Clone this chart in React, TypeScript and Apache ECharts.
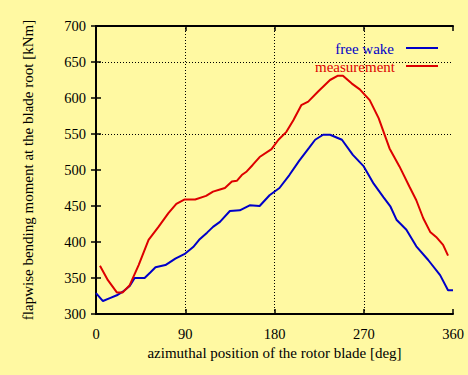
import React, { useEffect, useRef } from "react";
import * as echarts from "echarts";

const xTicks = [0, 90, 180, 270, 360];
const yTicks = [300, 350, 400, 450, 500, 550, 600, 650, 700];
const gridX = [90, 180, 270];
const gridY = [550, 650];

const freeWakeAngles = [0, 7, 14, 21, 27, 34, 39, 49, 55, 60, 70, 80, 90, 98, 104, 112, 118, 125, 135, 145, 155, 165, 175, 185, 195, 205, 215, 221, 229, 236, 248, 259, 270, 280, 290, 297, 303, 313, 323, 335, 347, 355, 360];
const freeWakeValues = [329, 318, 322, 326, 331, 339, 350, 350, 358, 365, 368, 377, 384, 393, 403, 413, 421, 428, 443, 444, 451, 450, 465, 475, 493, 513, 531, 542, 549, 549, 542, 521, 505, 481, 462, 449, 431, 417, 394, 375, 354, 333, 333];

const measAngles = [4, 12, 21, 27, 34, 43, 53, 63, 73, 81, 89, 100, 111, 118, 125, 130, 137, 142, 147, 152, 158, 165, 177, 184, 192, 199, 207, 214, 224, 236, 244, 249, 258, 266, 276, 285, 296, 306, 316, 323, 330, 337, 343, 350, 355];
const measValues = [367, 347, 330, 330, 340, 368, 403, 421, 440, 453, 459, 459, 464, 470, 473, 475, 484, 485, 493, 498, 507, 518, 529, 542, 553, 569, 590, 595, 609, 625, 631, 631, 620, 612, 597, 572, 530, 505, 477, 458, 433, 414, 407, 396, 381];

const seriesNames = ["free wake", "measurement"];
const seriesColors = ["#0000C8", "#DD0000"];

const FONT = "Liberation Serif";

export default function App() {
  const ref = useRef<HTMLDivElement>(null);
  useEffect(() => {
    if (!ref.current) return;
    const chart = echarts.init(ref.current, undefined, { renderer: "svg" });
    const zip = (a: number[], b: number[]) => a.map((v, i) => [v, b[i]]);
    const axisBase = {
      type: "value" as const,
      axisLine: { show: true, lineStyle: { color: "#000", width: 2 } },
      axisTick: { show: true, inside: true, length: 5, lineStyle: { color: "#000", width: 1.5 } },
      splitLine: { show: false },
    };
    chart.setOption({
      animation: false,
      backgroundColor: "#FFF9A2",
      textStyle: { fontFamily: FONT },
      grid: { left: 96, right: 15, top: 26, bottom: 61 },
      xAxis: [
        {
          ...axisBase,
          min: xTicks[0],
          max: xTicks[xTicks.length - 1],
          interval: 90,
          position: "bottom",
          name: "azimuthal position of the rotor blade [deg]",
          nameLocation: "middle",
          nameGap: 30,
          nameTextStyle: { fontFamily: FONT, fontSize: 15, color: "#000" },
          axisLabel: { fontFamily: FONT, fontSize: 14.5, color: "#000", margin: 12 },
        },
        {
          ...axisBase,
          min: xTicks[0],
          max: xTicks[xTicks.length - 1],
          interval: 90,
          position: "top",
          axisLabel: { show: false },
        },
      ],
      yAxis: [
        {
          ...axisBase,
          min: yTicks[0],
          max: yTicks[yTicks.length - 1],
          interval: 50,
          position: "left",
          name: "flapwise bending moment at the blade root [kNm]",
          nameLocation: "middle",
          nameGap: 61,
          nameTextStyle: { fontFamily: FONT, fontSize: 15, color: "#000" },
          axisLabel: { fontFamily: FONT, fontSize: 14.5, color: "#000", margin: 10 },
        },
        {
          ...axisBase,
          min: yTicks[0],
          max: yTicks[yTicks.length - 1],
          interval: 50,
          position: "right",
          axisLabel: { show: false },
        },
      ],
      graphic: [
        { type: "text", right: 74, top: 41, style: { text: seriesNames[0], fill: seriesColors[0], font: `15px '${FONT}'`, textAlign: "right" } },
        { type: "line", shape: { x1: 406, y1: 48, x2: 438, y2: 48 }, style: { stroke: seriesColors[0], lineWidth: 2 } },
        { type: "text", right: 73, top: 59, style: { text: seriesNames[1], fill: seriesColors[1], font: `15px '${FONT}'`, textAlign: "right" } },
        { type: "line", shape: { x1: 406, y1: 66, x2: 438, y2: 66 }, style: { stroke: seriesColors[1], lineWidth: 2 } },
      ],
      series: [
        {
          name: seriesNames[0],
          type: "line",
          data: zip(freeWakeAngles, freeWakeValues),
          showSymbol: false,
          lineStyle: { color: seriesColors[0], width: 2 },
          itemStyle: { color: seriesColors[0] },
          z: 3,
          markLine: {
            silent: true,
            symbol: "none",
            label: { show: false },
            lineStyle: { color: "#000", width: 1, type: [1, 2] },
            data: [...gridX.map((v) => ({ xAxis: v })), ...gridY.map((v) => ({ yAxis: v }))],
            z: 1,
          },
        },
        {
          name: seriesNames[1],
          type: "line",
          data: zip(measAngles, measValues),
          showSymbol: false,
          lineStyle: { color: seriesColors[1], width: 2 },
          itemStyle: { color: seriesColors[1] },
          z: 3,
        },
      ],
    });
    return () => chart.dispose();
  }, []);
  return <div ref={ref} style={{ position: "absolute", left: 0, top: 0, width: 468, height: 375 }} />;
}
